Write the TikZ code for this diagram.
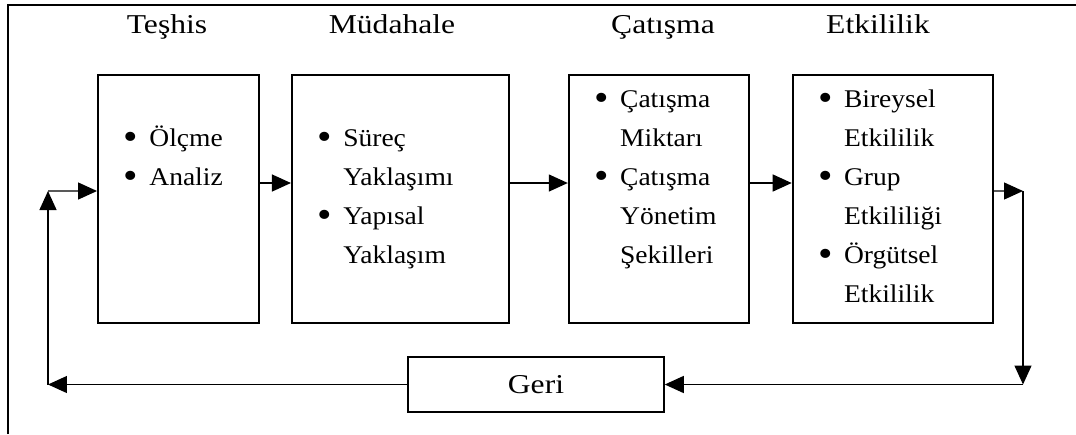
\documentclass[tikz,border=0pt]{standalone}
\usepackage{graphicx}
\usepackage{fontspec}
\setmainfont{Liberation Serif}[FakeStretch=1.08]
\newfontfamily\headfont{Liberation Serif}[FakeStretch=1.16]
\usetikzlibrary{positioning,arrows.meta}
\newcommand{\bul}[1]{\makebox[0.52cm][l]{\raisebox{-0.13em}{\scalebox{1.5}{\textbullet}}}#1}
\newcommand{\cont}[1]{\hspace*{0.52cm}#1}

\begin{document}
\begin{tikzpicture}[x=0.02cm, y=-0.02cm,
                stage/.style={rectangle, draw=black, line width=1.1pt, minimum height=4.96cm, inner sep=0pt},
                head/.style={anchor=base, inner sep=0pt, font=\headfont\fontsize{15.5}{18}\selectfont},
                list/.style={anchor=base west, inner sep=0pt, font=\fontsize{14.5}{22.2}\selectfont},
                arrow/.style={-{Triangle[length=0.38cm, width=0.34cm]}, line width=0.75pt}
            ]
                \useasboundingbox (0,0) rectangle (1076,434);
                \draw[line width=1.1pt] (8,434) -- (8,5) -- (1076,5);

                \node[stage, minimum width=3.22cm] (diag) at (178.5,199) {};
                \node[stage, minimum width=4.34cm, right=0.62cm of diag] (interv) {};
                \node[stage, minimum width=3.6cm, right=1.16cm of interv] (confl) {};
                \node[stage, minimum width=4cm, right=0.84cm of confl] (effect) {};
                \node[stage, minimum width=5.12cm, minimum height=1.1cm, line width=0.9pt, font=\headfont\fontsize{15.5}{18}\selectfont] (geri) at (536,384.5) {Geri};

                \node[head] (hdiag) at (167,33) {Teşhis};
                \node[head] (hinterv) at (392,33) {Müdahale};
                \node[head] (hconfl) at (663,33) {Çatışma};
                \node[head] (heffect) at (878,33) {Etkililik};

                \node[list] (ldiag) at ([xshift=0.52cm, yshift=-1.44cm]diag.north west) {\parbox[t]{3cm}{\bul{Ölçme}\\ \bul{Analiz}}};
                \node[list] (linterv) at ([xshift=0.52cm, yshift=-1.44cm]interv.north west) {\parbox[t]{3.5cm}{\bul{Süreç}\\ \cont{Yaklaşımı}\\ \bul{Yapısal}\\ \cont{Yaklaşım}}};
                \node[list] (lconfl) at ([xshift=0.52cm, yshift=-0.66cm]confl.north west) {\parbox[t]{3cm}{\bul{Çatışma}\\ \cont{Miktarı}\\ \bul{Çatışma}\\ \cont{Yönetim}\\ \cont{Şekilleri}}};
                \node[list] (leffect) at ([xshift=0.52cm, yshift=-0.66cm]effect.north west) {\parbox[t]{3.2cm}{\bul{Bireysel}\\ \cont{Etkililik}\\ \bul{Grup}\\ \cont{Etkililiği}\\ \bul{Örgütsel}\\ \cont{Etkililik}}};

                \coordinate (outR) at (1023,191);
                \coordinate (downR) at (1023,384.5);
                \coordinate (backL) at (48,384.5);
                \coordinate (upL) at (48,191);

                \draw[arrow] ([yshift=0.32cm]diag.east) -- ([yshift=0.32cm]interv.west);
                \draw[arrow] ([yshift=0.32cm]interv.east) -- ([yshift=0.32cm]confl.west);
                \draw[arrow] ([yshift=0.32cm]confl.east) -- ([yshift=0.32cm]effect.west);

                \draw[arrow] ([yshift=0.16cm]effect.east) -- (outR);
                \draw[arrow] (outR) -- (downR);
                \draw[arrow] (downR) -- (geri.east);
                \draw[arrow] (geri.west) -- (backL);
                \draw[arrow] (backL) -- (upL);
                \draw[arrow] (upL) -- ([yshift=0.16cm]diag.west);
            \end{tikzpicture}
\end{document}
